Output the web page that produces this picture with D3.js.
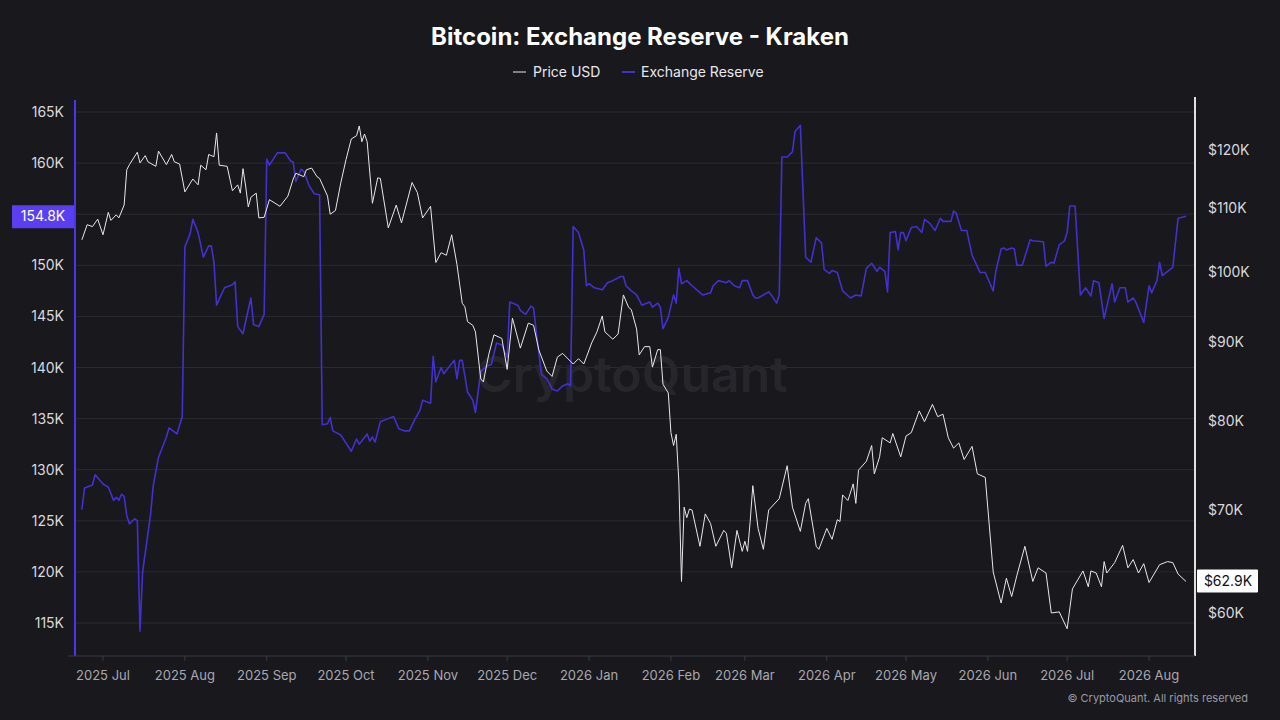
<!DOCTYPE html>
<html><head><meta charset="utf-8">
<script src="https://cdn.jsdelivr.net/npm/d3@7"></script>
<style>body{margin:0;background:#18181d;}svg{display:block;font-family:Inter,"Noto Sans",sans-serif;}</style>
</head><body><svg id="c" width="1280" height="720"></svg>
<script>
// days since 2025-07-01, Exchange Reserve (K BTC)
const reserveDays=[-8,-7,-4,-3,0,2,4,5,6,7,8,9,10,12,13,14,15,18,19,21,24,25,28,30,31,33,34,36,38,40,41,42,43,46,49,50,51,53,54,56,57,59,61,62,63,66,69,71,72,73,75,76,78,80,82,83,85,86,87,90,92,94,96,97,100,101,102,103,105,107,110,112,114,116,118,120,121,124,125,126,128,129,133,134,135,136,138,140,141,143,145,147,149,151,153,154,157,158,160,162,163,165,166,168,170,172,174,176,177,178,180,182,183,184,186,189,191,193,196,197,198,200,202,204,206,207,208,210,211,212,214,216,217,218,219,221,223,227,230,231,233,236,237,239,241,242,244,246,247,248,252,253,255,256,257,259,261,262,264,266,268,270,272,273,275,276,278,280,283,285,287,289,291,293,294,296,297,298,300,301,302,303,304,306,308,310,311,313,315,317,318,321,322,323,325,327,329,332,334,337,338,340,341,342,344,345,346,348,351,352,356,357,359,360,362,364,365,366,368,370,372,374,375,377,379,382,383,385,387,388,390,391,394,396,397,399,400,401,405,407,410];
const reserveVals=[126.1,128.2,128.5,129.5,128.6,128.3,127.0,127.3,127.0,127.6,127.4,125.5,124.7,125.2,125.0,114.2,120.0,125.6,128.4,131.2,133.2,134.1,133.5,135.2,151.8,153.1,154.5,153.2,150.8,151.9,151.9,150.3,146.1,147.8,148.1,148.4,144.0,143.3,144.5,146.8,144.2,144.0,145.2,160.4,159.8,161.0,161.0,160.2,160.1,158.2,159.4,159.2,157.8,157.0,156.9,134.4,134.5,135.1,133.8,133.4,132.6,131.8,133.0,132.5,133.5,132.8,133.2,132.7,134.7,134.9,135.2,134.0,133.8,133.8,134.9,135.8,136.8,136.5,141.1,138.6,140.0,139.4,140.7,138.9,140.7,140.7,137.6,136.8,135.6,139.6,140.1,140.3,142.4,142.2,141.0,146.4,146.1,145.6,145.2,146.0,145.8,141.4,139.3,138.9,137.9,137.7,138.2,138.4,138.2,153.8,153.2,151.5,148.0,148.2,147.8,147.6,148.3,148.5,148.9,148.9,148.0,147.5,147.1,146.1,146.3,146.4,145.9,146.3,145.9,143.8,144.9,147.1,146.3,149.7,148.2,148.5,148.0,147.1,147.3,148.0,148.5,148.3,148.5,148.0,147.8,148.5,148.5,147.1,146.8,146.8,147.4,147.1,146.3,147.1,160.6,160.6,161.1,163.1,163.7,150.8,150.3,152.7,152.2,149.6,149.2,149.5,149.3,147.5,146.8,147.1,147.0,149.7,150.2,149.4,149.8,149.4,147.4,153.2,153.3,151.5,153.2,153.2,152.4,153.7,153.8,153.2,154.5,154.1,153.4,154.6,154.3,154.3,155.3,155.1,153.4,153.4,151.0,149.3,149.3,147.5,149.4,151.6,151.7,151.5,151.7,151.6,150.0,150.0,152.5,152.4,152.3,149.9,150.3,150.2,152.0,152.4,153.2,155.8,155.8,147.1,147.8,147.0,148.5,148.3,144.8,148.2,146.4,147.8,147.8,146.4,146.8,146.4,144.4,148.0,147.3,148.5,150.3,149.0,149.8,154.6,154.8];
// days since 2025-07-01, Price USD (K)
const priceDays=[-8,-6,-4,-2,0,2,3,5,6,8,9,10,13,14,16,17,20,21,24,26,27,29,31,34,36,37,39,40,42,43,44,47,49,51,52,53,54,55,56,58,59,61,63,67,70,72,73,76,77,79,81,82,85,86,88,90,92,94,96,97,98,99,100,102,104,105,108,111,113,117,119,121,124,126,128,130,132,134,136,137,138,140,141,143,144,146,148,151,153,155,158,161,163,165,168,170,172,174,178,180,182,183,185,187,189,190,193,195,197,199,200,202,203,205,207,208,210,211,212,214,215,216,217,218,219,220,221,222,223,226,228,230,232,235,236,238,240,242,243,244,245,246,248,250,252,256,259,261,264,266,267,270,271,274,276,278,279,280,282,284,285,286,289,291,292,294,295,298,299,302,304,306,309,311,314,316,318,320,322,324,326,329,331,334,337,340,342,344,346,349,352,354,357,359,362,365,367,371,373,374,376,378,379,380,383,386,388,390,392,394,396,400,403,405,407,410];
const priceVals=[104.9,107.3,107.0,108.2,105.7,109.3,108.0,108.9,108.4,110.5,116.5,117.4,119.6,117.7,119.0,117.9,117.1,119.8,117.4,119.2,117.9,117.5,112.7,114.9,113.9,117.3,116.5,119.2,118.8,123.1,117.3,117.1,112.9,113.9,112.5,116.7,113.7,110.2,111.8,112.5,108.4,108.5,111.4,110.3,112.0,114.9,115.9,115.3,116.5,116.8,115.3,115.0,112.0,109.0,109.6,114.2,118.3,122.0,122.6,124.4,121.5,122.9,121.5,110.8,115.1,115.0,106.8,110.5,107.6,114.3,112.6,108.4,110.3,101.4,102.9,102.5,105.7,101.1,95.4,94.9,92.8,92.3,91.4,85.2,84.8,88.3,91.0,90.5,86.4,93.3,89.2,92.6,92.3,88.95,86.2,85.5,88.0,88.5,87.1,87.8,87.1,88.0,89.9,91.4,93.6,91.4,90.4,91.1,96.6,94.8,94.5,91.8,88.3,89.4,89.4,86.7,89.0,89.0,84.5,83.4,78.6,77.1,78.4,73.0,62.9,70.3,69.2,70.1,70.0,66.3,69.6,68.6,66.3,67.9,67.6,64.2,67.9,65.8,66.8,65.8,68.8,72.6,68.1,66.0,70.0,71.2,74.8,70.3,67.8,70.7,71.2,66.3,66.0,68.1,67.0,69.0,68.8,71.6,71.0,72.8,70.7,74.3,75.3,77.1,73.9,75.8,78.0,77.4,78.5,75.8,78.2,78.6,81.2,79.9,82.0,80.5,80.8,78.0,76.8,77.4,75.5,77.0,73.9,73.5,63.8,60.9,63.2,61.5,63.5,66.3,62.9,64.2,63.7,60.0,60.1,58.6,62.2,63.9,62.4,63.9,63.7,62.4,64.8,63.7,64.7,66.4,64.2,65.0,63.7,64.6,62.8,64.5,64.8,64.7,63.6,62.9];
const leftTicks=[165,160,155,150,145,140,135,130,125,120,115];
const rightTicks=[120,110,100,90,80,70,60];
const monthLabels=["2025 Jul","2025 Aug","2025 Sep","2025 Oct","2025 Nov","2025 Dec","2026 Jan","2026 Feb","2026 Mar","2026 Apr","2026 May","2026 Jun","2026 Jul","2026 Aug"];

const svg=d3.select("#c");
const PURPLE="#4330d0", WHITE="#e8e8ec";
svg.append("rect").attr("width",1280).attr("height",720).attr("fill","#18181d");
const base=new Date(2025,6,1);
const dayMs=86400000;
const toDate=d=>new Date(base.getTime()+d*dayMs);
const x=d3.scaleTime().domain([toDate(-10.6),toDate(413.4)]).range([75,1195]);
const yL=d3.scaleLinear().domain([115,165]).range([623,112]);
const yR=d3.scaleLog().domain([60,120]).range([613,150]);

svg.append("g").selectAll("line").data(leftTicks).join("line")
 .attr("x1",75).attr("x2",1195).attr("y1",d=>yL(d)).attr("y2",d=>yL(d))
 .attr("stroke","#2a2a31").attr("stroke-width",1);

svg.append("text").attr("x",632).attr("y",392).attr("text-anchor","middle")
 .attr("font-size",50).attr("font-weight",600).attr("fill","#26262c").text("CryptoQuant");

const rData=reserveDays.map((d,i)=>[toDate(d),reserveVals[i]]);
const pData=priceDays.map((d,i)=>[toDate(d),priceVals[i]]);
svg.append("path").attr("d",d3.line().x(d=>x(d[0])).y(d=>yL(d[1]))(rData))
 .attr("fill","none").attr("stroke",PURPLE).attr("stroke-width",1.6).attr("stroke-linejoin","round");
svg.append("path").attr("d",d3.line().x(d=>x(d[0])).y(d=>yR(d[1]))(pData))
 .attr("fill","none").attr("stroke",WHITE).attr("stroke-width",1).attr("stroke-linejoin","round");

const lastR=reserveVals[reserveVals.length-1];
svg.append("line").attr("x1",75).attr("x2",75).attr("y1",100).attr("y2",656).attr("stroke","#4a35e8").attr("stroke-width",2);
svg.append("g").selectAll("text").data(leftTicks.filter(d=>Math.abs(yL(d)-yL(lastR))>14)).join("text")
 .attr("x",64).attr("y",d=>yL(d)+5).attr("text-anchor","end").attr("font-size",14).attr("fill","#d8d8de")
 .text(d=>d+"K");
svg.append("rect").attr("x",12).attr("y",yL(lastR)-11).attr("width",62).attr("height",23).attr("fill","#5a3ff2");
svg.append("text").attr("x",43).attr("y",yL(lastR)+5).attr("text-anchor","middle").attr("font-size",14).attr("fill","#fff").text(lastR.toFixed(1)+"K");

svg.append("line").attr("x1",1195).attr("x2",1195).attr("y1",97).attr("y2",656).attr("stroke","#e0e0e0").attr("stroke-width",2);
svg.append("g").selectAll("text").data(rightTicks).join("text")
 .attr("x",1208).attr("y",d=>yR(d)+5).attr("font-size",14).attr("fill","#d8d8de").text(d=>"$"+d+"K");
const lastP=priceVals[priceVals.length-1];
svg.append("rect").attr("x",1197).attr("y",yR(lastP)-12).attr("width",61).attr("height",23).attr("fill","#fff").attr("rx",1);
svg.append("text").attr("x",1228).attr("y",yR(lastP)+5).attr("text-anchor","middle").attr("font-size",14).attr("fill","#111").text("$"+lastP.toFixed(1)+"K");

svg.append("line").attr("x1",68).attr("x2",1195).attr("y1",656).attr("y2",656).attr("stroke","#3a3a42");
const months=monthLabels.map((m,i)=>new Date(2025,6+i,1));
const xg=svg.append("g");
xg.selectAll("line").data(months).join("line").attr("x1",d=>x(d)).attr("x2",d=>x(d)).attr("y1",656).attr("y2",661).attr("stroke","#3a3a42");
xg.selectAll("text").data(months).join("text").attr("x",d=>x(d)).attr("y",680).attr("text-anchor","middle")
 .attr("font-size",13).attr("fill","#a8a8b0").text((d,i)=>monthLabels[i]);

svg.append("text").attr("x",640).attr("y",45).attr("text-anchor","middle").attr("font-size",24).attr("font-weight",700).attr("fill","#fff").text("Bitcoin: Exchange Reserve - Kraken");
const lg=svg.append("g").attr("font-size",14).attr("fill","#e8e8ec");
lg.append("line").attr("x1",513).attr("x2",526).attr("y1",72).attr("y2",72).attr("stroke",WHITE);
lg.append("text").attr("x",533).attr("y",77).text("Price USD");
lg.append("line").attr("x1",622).attr("x2",635).attr("y1",72).attr("y2",72).attr("stroke",PURPLE).attr("stroke-width",2);
lg.append("text").attr("x",641).attr("y",77).text("Exchange Reserve");
svg.append("text").attr("x",1248).attr("y",702).attr("text-anchor","end").attr("font-size",11).attr("fill","#9a9aa2").text("© CryptoQuant. All rights reserved");
</script></body></html>
